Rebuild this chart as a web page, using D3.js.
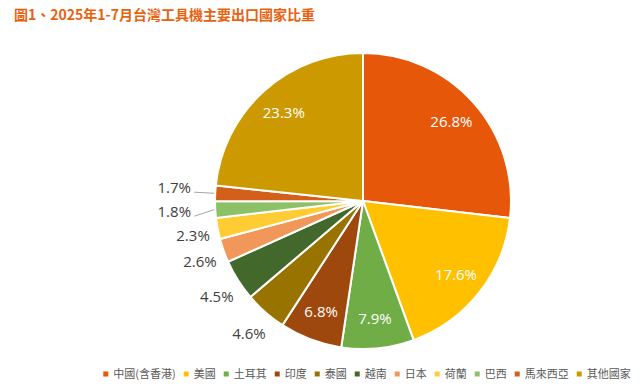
<!DOCTYPE html>
<html>
<head>
<meta charset="utf-8">
<script src="https://cdn.jsdelivr.net/npm/d3@7"></script>
<style>
  body { margin: 0; background: #fff; }
  svg { display: block; font-family: "Open Sans", "Noto Sans CJK TC", sans-serif; }
</style>
</head>
<body>
<svg id="chart" width="640" height="389"></svg>
<script>
var countries = ['中國(含香港)', '美國', '土耳其', '印度', '泰國', '越南', '日本', '荷蘭', '巴西', '馬來西亞', '其他國家'];
var shares = [26.8, 17.6, 7.9, 6.8, 4.6, 4.5, 2.6, 2.3, 1.8, 1.7, 23.3];
var colors = ['#E6570A', '#FFC000', '#70AD47', '#9E480E', '#997300', '#43682B', '#F1975A', '#FFCD33', '#8CC168', '#D2601A', '#CC9A00'];

var width = 640, height = 389;
var cx = 363, cy = 201, radius = 148;

var svg = d3.select('#chart');

// title
svg.append('text')
    .attr('x', 14)
    .attr('y', 20)
    .style('font-family', '"Noto Sans CJK TC", sans-serif')
    .style('font-size', '14px')
    .style('font-weight', 'bold')
    .style('fill', '#E8620E')
    .text('圖1、2025年1-7月台灣工具機主要出口國家比重');

var data = countries.map(function (c, i) {
	return { name: c, value: shares[i], color: colors[i] };
});

var pie = d3.pie()
    .sort(null)
    .value(function (d) { return d.value; });

var arcs = pie(data);

var arc = d3.arc().innerRadius(0).outerRadius(radius);
var inLabel = d3.arc().innerRadius(radius * 0.8).outerRadius(radius * 0.8);
var outLabel = d3.arc().innerRadius(173).outerRadius(173);
var edge = d3.arc().innerRadius(radius + 1).outerRadius(radius + 1);

var g = svg.append('g').attr('transform', 'translate(' + cx + ',' + cy + ')');

g.selectAll('path.slice')
    .data(arcs)
    .enter().append('path')
    .attr('class', 'slice')
    .attr('d', arc)
    .attr('fill', function (d) { return d.data.color; })
    .attr('stroke', '#fff')
    .attr('stroke-width', 2);

// labels: big slices inside (white), small ones outside (grey)
var inside = arcs.filter(function (d) { return d.data.value > 5; });
var outside = arcs.filter(function (d) { return d.data.value <= 5; });

g.selectAll('text.in')
    .data(inside)
    .enter().append('text')
    .attr('class', 'in')
    .attr('transform', function (d) { return 'translate(' + inLabel.centroid(d) + ')'; })
    .attr('dy', '0.35em')
    .attr('text-anchor', 'middle')
    .style('font-size', '15px')
    .style('fill', '#fff')
    .text(function (d) { return d.data.value.toFixed(1) + '%'; });

// outside label positions, pushed apart vertically
var pos = outside.map(function (d) {
	var c = outLabel.centroid(d);
	return { d: d, x: c[0], y: c[1] + 3, moved: false };
});
pos.sort(function (a, b) { return b.y - a.y; });
for (var i = 1; i < pos.length; i++) {
	if (pos[i - 1].y - pos[i].y < 24) {
		pos[i].y = pos[i - 1].y - 24;
		pos[i].x -= 16;
		pos[i].moved = true;
	}
}

pos.forEach(function (p) {
	var e = edge.centroid(p.d);
	if (p.moved) {
		g.append('polyline')
		    .attr('points', [[e[0], e[1]], [p.x + 20, p.y + 4]].join(' '))
		    .attr('fill', 'none')
		    .attr('stroke', '#A6A6A6')
		    .attr('stroke-width', 1);
	} else if (p.d.data.value < 2) {
		g.append('polyline')
		    .attr('points', [[e[0] - 1, e[1] - 2], [e[0] - 1, e[1] + 1], [e[0] - 5, e[1] + 1]].join(' '))
		    .attr('fill', 'none')
		    .attr('stroke', '#A6A6A6')
		    .attr('stroke-width', 1);
	}
	g.append('text')
	    .attr('x', p.x)
	    .attr('y', p.y)
	    .attr('dy', '0.35em')
	    .attr('text-anchor', 'middle')
	    .style('font-size', '15px')
	    .style('fill', '#404040')
	    .text(p.d.data.value.toFixed(1) + '%');
});

// legend
var legend = svg.append('g').attr('transform', 'translate(0,374)');
var items = legend.selectAll('g.item')
    .data(data)
    .enter().append('g')
    .attr('class', 'item');

items.append('rect')
    .attr('width', 5)
    .attr('height', 5)
    .attr('y', -2.5)
    .attr('fill', function (d) { return d.color; });

items.append('text')
    .attr('x', 10)
    .attr('dy', '0.35em')
    .style('font-family', '"Noto Sans CJK TC", sans-serif')
    .style('font-size', '11px')
    .style('fill', '#595959')
    .text(function (d) { return d.name; });

var gap = 8;
var offsets = [], x = 0;
items.each(function () {
	offsets.push(x);
	x += 10 + d3.select(this).select('text').node().getComputedTextLength() + gap;
});
var total = x - gap;
var startX = 367 - total / 2;
items.attr('transform', function (d, i) { return 'translate(' + (startX + offsets[i]) + ',0)'; });
</script>
</body>
</html>
